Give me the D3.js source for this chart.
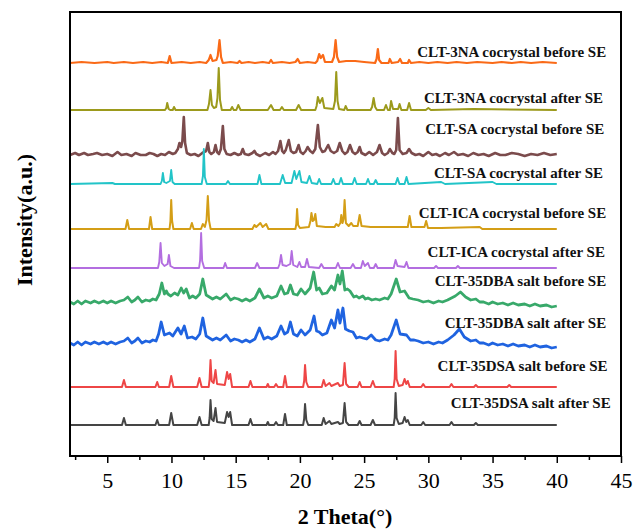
<!DOCTYPE html>
<html>
<head>
<meta charset="utf-8">
<script src="https://cdn.jsdelivr.net/npm/d3@7/dist/d3.min.js"></script>
<style>
  html, body { margin: 0; padding: 0; background: #ffffff; }
  svg { display: block; }
  text { font-family: "Liberation Serif", "Times New Roman", serif; }
</style>
</head>
<body>
<svg id="chart" width="633" height="531"></svg>
<script>
// PXRD patterns, [2θ (°), intensity (a.u.)] per trace
const clt3naBefore = [[2.1,0],[3.0,1],[4.0,0],[5.0,1],[5.5,0],[6.3,1],[7.0,0],[7.8,1],[8.5,0],[9.2,1],[9.72,0],[9.86,7],[10.0,0],[10.8,1],[11.5,0],[12.2,1],[12.7,0],[12.9,3],[13.04,8],[13.2,2],[13.5,3],[13.6,7],[13.74,23],[13.86,6],[14.0,0],[14.6,1],[15.15,0],[15.3,2],[15.45,0],[16.0,1],[16.5,0],[17.1,1],[17.6,0],[17.75,3],[17.9,0],[18.6,1],[19.2,0],[19.65,1],[19.83,4],[20.0,0],[20.6,1],[21.2,0],[21.35,2],[21.5,9],[21.62,5],[21.8,8],[21.95,1],[22.5,1],[22.65,6],[22.78,23],[22.9,6],[23.05,1],[23.6,2],[24.3,2],[25.0,1],[25.85,0],[25.97,4],[26.07,14],[26.17,3],[26.35,0],[26.9,0],[27.0,4],[27.15,0],[27.65,1],[27.8,4],[27.95,0],[28.4,0],[28.5,3],[28.65,0],[29.3,1],[30,0],[30.7,1],[31.5,0],[32.2,1],[33,0],[33.8,1],[35,0],[35.7,1],[36.5,0],[37.2,1],[38,0],[38.9,1],[40,0]];
const clt3naAfter = [[2.1,0],[9.5,0],[9.6,2],[9.67,7],[9.78,1],[9.9,0],[10.1,0],[10.2,3],[10.32,0],[12.8,0],[12.92,6],[13.04,20],[13.15,5],[13.3,2],[13.48,3],[13.58,12],[13.68,42],[13.78,10],[13.92,0],[14.6,0],[14.72,3],[14.85,0],[15.05,0],[15.2,5],[15.38,0],[17.5,0],[17.75,5],[17.95,0],[18.45,0],[18.6,3],[18.75,0],[19.7,0],[19.9,5],[20.1,0],[21.2,0],[21.3,4],[21.4,13],[21.55,7],[21.75,12],[21.9,2],[22.6,1],[22.73,9],[22.83,38],[22.93,9],[23.05,1],[23.45,0],[23.56,4],[23.7,0],[25.5,0],[25.62,3],[25.74,12],[25.86,3],[26.0,0],[26.55,0],[26.7,5],[26.85,0],[27.0,0],[27.1,9],[27.25,1],[27.65,1],[27.76,6],[27.9,0],[28.35,0],[28.5,7],[28.65,0],[29.8,0],[30.0,2],[30.2,0],[33.5,1],[40,0]];
const cltSaBefore = [[2.1,0],[2.5,2],[2.8,0],[3.2,2],[3.5,0],[3.9,1],[4.2,2],[4.6,0],[5.0,1],[5.4,-1],[5.8,3],[6.1,0],[6.5,1],[6.9,-1],[7.2,2],[7.6,0],[8.0,0],[8.3,2],[8.6,1],[8.9,-1],[9.2,1],[9.5,0],[9.8,3],[10.1,1],[10.3,2],[10.5,6],[10.62,12],[10.75,8],[10.85,14],[10.96,38],[11.06,12],[11.2,2],[11.5,0],[11.8,1],[12.1,-1],[12.4,2],[12.7,4],[12.83,12],[12.95,3],[13.1,1],[13.3,3],[13.43,10],[13.55,3],[13.7,1],[13.85,6],[14.0,29],[14.12,6],[14.3,1],[14.6,0],[14.9,2],[15.2,0],[15.4,1],[15.55,6],[15.7,1],[16.0,0],[16.3,2],[16.46,4],[16.6,1],[16.9,-1],[17.3,2],[17.6,0],[17.9,3],[18.1,1],[18.3,4],[18.48,14],[18.62,4],[18.75,2],[18.9,5],[19.13,15],[19.3,4],[19.5,2],[19.7,3],[19.9,10],[20.05,3],[20.25,1],[20.45,4],[20.6,8],[20.8,4],[21.0,2],[21.2,6],[21.4,30],[21.55,8],[21.75,3],[21.95,4],[22.2,10],[22.4,4],[22.65,2],[22.9,4],[23.1,12],[23.3,4],[23.5,1],[23.7,3],[23.9,10],[24.1,3],[24.3,1],[24.5,3],[24.65,8],[24.8,2],[25.1,0],[25.4,3],[25.7,0],[26.0,3],[26.2,10],[26.4,2],[26.6,0],[26.85,2],[27.0,6],[27.2,2],[27.35,1],[27.5,5],[27.63,37],[27.76,5],[28.0,1],[28.3,2],[28.5,6],[28.7,2],[29.0,0],[29.3,1],[29.6,-1],[30.0,3],[30.3,0],[30.6,1],[30.9,-1],[31.3,2],[31.6,0],[32.0,3],[32.3,0],[32.7,1],[33.1,-1],[33.5,2],[33.9,0],[34.3,1],[34.7,-1],[35.2,2],[35.6,0],[36.0,0],[36.5,2],[37.0,1],[37.5,-1],[38.0,1],[38.5,0],[39.0,2],[39.5,0],[40,1]];
const cltSaAfter = [[2.1,0],[5.4,1],[5.6,0],[9.15,0],[9.25,3],[9.33,11],[9.43,2],[9.6,1],[9.88,3],[9.98,14],[10.08,2],[10.25,0],[12.35,0],[12.45,8],[12.52,35],[12.6,7],[12.75,0],[14.25,0],[14.4,3],[14.55,0],[16.7,0],[16.85,9],[17.0,0],[18.45,0],[18.66,9],[18.85,1],[19.35,1],[19.57,13],[19.72,5],[19.96,13],[20.12,2],[20.55,1],[20.74,8],[20.92,1],[21.35,0],[21.5,5],[21.65,0],[22.45,0],[22.6,5],[22.75,0],[23.05,0],[23.2,6],[23.35,0],[24.1,0],[24.26,6],[24.42,0],[25.15,0],[25.3,5],[25.45,0],[25.75,0],[25.9,4],[26.05,0],[27.45,0],[27.6,6],[27.75,0],[28.15,0],[28.3,7],[28.45,0],[31.0,2],[31.3,0],[35.0,2],[35.3,0],[40,0]];
const cltIcaBefore = [[2.1,0],[6.42,0],[6.56,9],[6.7,0],[8.25,0],[8.37,12],[8.5,0],[9.85,0],[9.92,8],[9.98,29],[10.05,8],[10.15,0],[11.45,0],[11.59,6],[11.73,0],[12.3,0],[12.44,5],[12.6,2],[12.73,9],[12.83,33],[12.93,8],[13.05,0],[16.3,0],[16.46,4],[16.6,2],[16.92,6],[17.1,2],[17.37,5],[17.55,0],[19.65,0],[19.72,5],[19.78,20],[19.86,4],[20.0,1],[20.7,2],[20.82,8],[20.9,16],[21.0,8],[21.1,9],[21.2,15],[21.32,3],[22.0,2],[22.7,2],[22.83,5],[23.0,3],[23.15,6],[23.22,14],[23.32,6],[23.4,10],[23.48,29],[23.58,6],[23.8,3],[24.0,6],[24.15,3],[24.5,3],[24.65,14],[24.8,3],[25.5,2],[26.5,2],[28.4,2],[28.54,13],[28.68,2],[29.7,2],[29.83,8],[29.97,1],[31,1],[34,2],[34.2,0],[40,0]];
const cltIcaAfter = [[2.1,0],[8.95,0],[9.05,6],[9.15,25],[9.25,5],[9.45,2],[9.7,4],[9.8,13],[9.92,2],[10.2,0],[12.15,0],[12.23,8],[12.31,35],[12.39,7],[12.55,0],[14.05,0],[14.18,5],[14.32,0],[16.5,0],[16.67,5],[16.85,0],[18.3,0],[18.42,4],[18.53,13],[18.65,3],[18.95,2],[19.25,4],[19.36,17],[19.48,3],[19.8,1],[19.96,6],[20.1,1],[20.4,1],[20.55,9],[20.7,1],[21.5,0],[21.67,4],[21.85,0],[22.8,0],[22.96,5],[23.12,0],[23.95,0],[24.13,4],[24.3,0],[24.75,0],[24.9,7],[25.05,2],[25.3,5],[25.45,0],[25.75,0],[25.9,4],[26.05,0],[27.3,0],[27.45,8],[27.6,2],[28.15,1],[28.3,6],[28.45,0],[30.45,0],[30.6,2],[30.75,0],[32.15,0],[32.3,2],[32.45,0],[40,0]];
const clt35dbaBefore = [[2.1,0],[2.4,-2],[2.7,1],[3.0,-2],[3.3,1],[3.7,-1],[4.0,1],[4.35,-1],[4.7,1],[5.0,-1],[5.3,1],[5.65,-1],[6.0,1],[6.3,2],[6.6,5],[6.9,0],[7.15,2],[7.39,5],[7.7,0],[8.0,2],[8.3,1],[8.55,3],[8.8,2],[9.05,8],[9.25,19],[9.45,8],[9.6,11],[9.72,8],[9.95,6],[10.24,9],[10.5,7],[10.76,14],[10.95,9],[11.15,13],[11.4,4],[11.65,6],[11.9,4],[12.2,8],[12.44,23],[12.7,7],[12.95,5],[13.2,3],[13.5,5],[13.8,3],[14.26,8],[14.6,2],[14.9,4],[15.2,3],[15.5,1],[15.8,3],[16.1,1],[16.5,4],[16.85,13],[17.2,4],[17.5,6],[17.8,4],[18.2,6],[18.53,16],[18.8,8],[19.05,9],[19.26,17],[19.5,8],[19.8,7],[20.09,13],[20.4,8],[20.8,14],[21.07,30],[21.3,12],[21.5,14],[21.75,8],[22.1,9],[22.45,16],[22.7,12],[22.96,27],[23.12,18],[23.3,31],[23.5,12],[23.7,13],[23.9,11],[24.2,5],[24.4,6],[24.6,4],[24.9,6],[25.1,3],[25.3,4],[25.6,2],[25.9,3],[26.2,2],[26.6,4],[26.85,3],[27.1,8],[27.5,23],[27.8,10],[28.15,11],[28.5,4],[28.8,3],[29.2,2],[29.6,0],[30,1],[30.4,-1],[30.8,1],[31.1,0],[31.5,2],[32.1,6],[32.5,10],[32.9,5],[33.3,2],[33.7,3],[34.0,0],[34.3,0],[34.7,-2],[35.0,0],[35.4,-2],[35.8,-1],[36.2,-3],[36.6,-1],[37.0,-3],[37.5,-2],[37.9,-4],[38.3,-2],[38.7,-4],[39.2,-3],[39.6,-5],[40,-4]];
const clt35dbaAfter = [[2.1,0],[2.4,-2],[2.7,1],[3.0,-2],[3.3,1],[3.7,-1],[4.0,1],[4.35,-1],[4.7,1],[5.0,-1],[5.3,1],[5.65,-1],[6.0,1],[6.3,2],[6.6,5],[6.9,0],[7.15,2],[7.39,5],[7.7,0],[8.0,2],[8.3,1],[8.55,3],[8.8,2],[9.0,9],[9.2,21],[9.45,8],[9.85,10],[10.1,7],[10.5,15],[10.75,9],[11.0,17],[11.25,5],[11.6,6],[11.9,4],[12.2,9],[12.44,25],[12.7,7],[12.95,5],[13.2,3],[13.5,5],[13.8,3],[14.26,8],[14.6,2],[14.9,4],[15.2,3],[15.5,1],[15.8,3],[16.1,1],[16.5,4],[16.85,15],[17.2,4],[17.5,6],[17.8,4],[18.2,7],[18.53,17],[18.8,9],[19.05,11],[19.26,21],[19.5,9],[19.8,7],[20.09,13],[20.4,8],[20.8,13],[21.1,27],[21.3,12],[21.5,11],[21.75,8],[22.1,10],[22.45,23],[22.7,15],[22.96,33],[23.12,20],[23.35,35],[23.55,14],[23.85,12],[24.13,11],[24.4,5],[24.65,6],[24.9,5],[25.2,4],[25.55,8],[25.9,3],[26.2,2],[26.6,4],[26.85,3],[27.1,8],[27.5,23],[27.8,9],[28.3,8],[28.6,3],[28.9,3],[29.2,2],[29.6,0],[30,1],[30.4,-1],[30.8,1],[31.1,0],[31.5,3],[32.0,8],[32.42,14],[32.8,6],[33.3,2],[33.7,3],[34.0,0],[34.3,0],[34.7,-2],[35.0,0],[35.4,-2],[35.8,-1],[36.2,-3],[36.6,-1],[37.0,-3],[37.5,-2],[37.9,-4],[38.3,-2],[38.7,-4],[39.2,-3],[39.6,-5],[40,-4]];
const clt35dsaBefore = [[2.1,0],[6.15,0],[6.3,7],[6.45,0],[8.75,0],[8.89,5],[9.02,0],[9.82,0],[9.98,11],[10.15,0],[12.0,0],[12.18,9],[12.35,0],[12.9,0],[12.97,8],[13.04,27],[13.13,6],[13.28,4],[13.43,17],[13.55,3],[14.15,2],[14.33,15],[14.45,8],[14.57,13],[14.72,0],[16.0,0],[16.15,6],[16.3,0],[17.4,0],[17.5,3],[17.6,0],[18.0,0],[18.14,3],[18.28,0],[18.7,0],[18.84,11],[18.98,0],[20.25,0],[20.33,6],[20.4,22],[20.5,5],[20.65,0],[21.7,0],[21.85,7],[22.0,1],[22.3,4],[22.45,1],[22.96,4],[23.1,1],[23.35,2],[23.48,24],[23.6,3],[23.8,0],[24.5,0],[24.65,5],[24.8,0],[25.5,0],[25.68,6],[25.85,0],[27.3,0],[27.38,8],[27.45,36],[27.53,8],[27.7,1],[28.0,2],[28.15,8],[28.28,3],[28.4,6],[28.55,0],[29.45,0],[29.6,3],[29.75,0],[31.65,0],[31.8,3],[31.95,0],[33.55,0],[33.7,2],[33.85,0],[36.15,0],[36.3,2],[36.45,0],[40,0]];
const clt35dsaAfter = [[2.1,0],[6.15,0],[6.3,7],[6.45,0],[8.75,0],[8.89,5],[9.02,0],[9.82,0],[9.98,12],[10.15,0],[12.0,0],[12.18,8],[12.35,0],[12.9,0],[12.97,7],[13.04,25],[13.13,6],[13.28,4],[13.43,17],[13.55,3],[14.15,2],[14.33,13],[14.45,8],[14.57,13],[14.72,0],[16.0,0],[16.15,6],[16.3,0],[17.4,0],[17.5,3],[17.6,0],[18.0,0],[18.14,3],[18.28,0],[18.7,0],[18.84,11],[18.98,0],[20.25,0],[20.33,6],[20.4,21],[20.5,5],[20.65,0],[21.7,0],[21.85,7],[22.0,1],[22.3,4],[22.45,1],[22.96,3],[23.1,1],[23.35,2],[23.48,22],[23.6,3],[23.8,0],[24.5,0],[24.65,4],[24.8,0],[25.5,0],[25.68,5],[25.85,0],[27.3,0],[27.38,7],[27.45,32],[27.53,7],[27.7,1],[28.0,2],[28.15,8],[28.28,3],[28.4,5],[28.55,0],[29.45,0],[29.6,3],[29.75,0],[31.65,0],[31.8,3],[31.95,0],[33.55,0],[33.7,2],[33.85,0],[40,0]];

// Stacking order (top to bottom), labels and vertical offsets (a.u.)
const sampleNames = [
  "CLT-3NA cocrystal before SE", "CLT-3NA cocrystal after SE",
  "CLT-SA cocrystal before SE", "CLT-SA cocrystal after SE",
  "CLT-ICA cocrystal before SE", "CLT-ICA cocrystal after SE",
  "CLT-35DBA salt before SE", "CLT-35DBA salt after SE",
  "CLT-35DSA salt before SE", "CLT-35DSA salt after SE"
];
const patterns = [clt3naBefore, clt3naAfter, cltSaBefore, cltSaAfter, cltIcaBefore,
                  cltIcaAfter, clt35dbaBefore, clt35dbaAfter, clt35dsaBefore, clt35dsaAfter];
const offsets = [393, 346, 301, 272, 227, 188, 154, 113, 69, 31];
const xMajorTicks = [5, 10, 15, 20, 25, 30, 35, 40, 45];
const xMinorTicks = [2.5, 7.5, 12.5, 17.5, 22.5, 27.5, 32.5, 37.5, 42.5];

// Label placement: baseline level (a.u.) and right edge (°)
const labelLevels = [399, 353, 322, 278, 238, 199, 170, 128, 85, 48];
const labelRight = [43.85, 43.6, 43.7, 43.6, 43.85, 43.75, 43.85, 43.85, 43.95, 44.2];

// Styling
const colors = ["#fa6a17", "#9c9a1c", "#7b4b4c", "#22c4c8", "#d49e16",
                "#b36ee0", "#38a96a", "#1f63e0", "#ee4646", "#454545"];
const strokeWidths = [2.2, 2, 2.6, 1.9, 2, 1.9, 2.8, 2.8, 2, 2];

const svg = d3.select("#chart");
const plot = { left: 70, right: 621, top: 12, bottom: 456 };

const x = d3.scaleLinear().domain([2.1, 45]).range([plot.left, plot.right]);
const y = d3.scaleLinear().domain([0, 444]).range([plot.bottom, plot.top]);

// Traces
patterns.forEach((pts, i) => {
  const line = d3.line()
    .x(d => x(d[0]))
    .y(d => y(d[1] + offsets[i]))
    .curve(d3.curveLinear);
  svg.append("path")
    .datum(pts)
    .attr("fill", "none")
    .attr("stroke", colors[i])
    .attr("stroke-width", strokeWidths[i])
    .attr("stroke-linejoin", "round")
    .attr("d", line);
});

// Trace labels
svg.append("g").selectAll("text")
  .data(sampleNames)
  .join("text")
  .attr("x", (d, i) => x(labelRight[i]))
  .attr("y", (d, i) => y(labelLevels[i]))
  .attr("text-anchor", "end")
  .attr("font-size", 15)
  .attr("font-weight", "bold")
  .attr("fill", "#111")
  .text(d => d);

// Axes
const xAxis = d3.axisBottom(x).tickValues(xMajorTicks).tickSize(7).tickSizeOuter(0).tickPadding(9);
const gx = svg.append("g").attr("transform", `translate(0,${plot.bottom})`).call(xAxis);
gx.select(".domain").remove();
gx.selectAll(".tick line").attr("stroke", "#000").attr("stroke-width", 1.5);
gx.selectAll(".tick text").attr("font-family", "Liberation Serif").attr("font-size", 22).attr("fill", "#000");

const xMinor = d3.axisBottom(x).tickValues(xMinorTicks).tickSize(4).tickFormat("");
const gxm = svg.append("g").attr("transform", `translate(0,${plot.bottom})`).call(xMinor);
gxm.select(".domain").remove();
gxm.selectAll(".tick line").attr("stroke", "#000").attr("stroke-width", 1.5);

// Frame
svg.append("rect")
  .attr("x", plot.left).attr("y", plot.top)
  .attr("width", plot.right - plot.left).attr("height", plot.bottom - plot.top)
  .attr("fill", "none").attr("stroke", "#000").attr("stroke-width", 2);

// Axis titles
svg.append("text")
  .attr("x", 345).attr("y", 524)
  .attr("text-anchor", "middle")
  .attr("font-size", 22).attr("font-weight", "bold")
  .text("2 Theta(°)");

svg.append("text")
  .attr("transform", "translate(32,220) rotate(-90)")
  .attr("text-anchor", "middle")
  .attr("font-size", 22).attr("font-weight", "bold")
  .text("Intensity(a.u.)");
</script>
</body>
</html>
